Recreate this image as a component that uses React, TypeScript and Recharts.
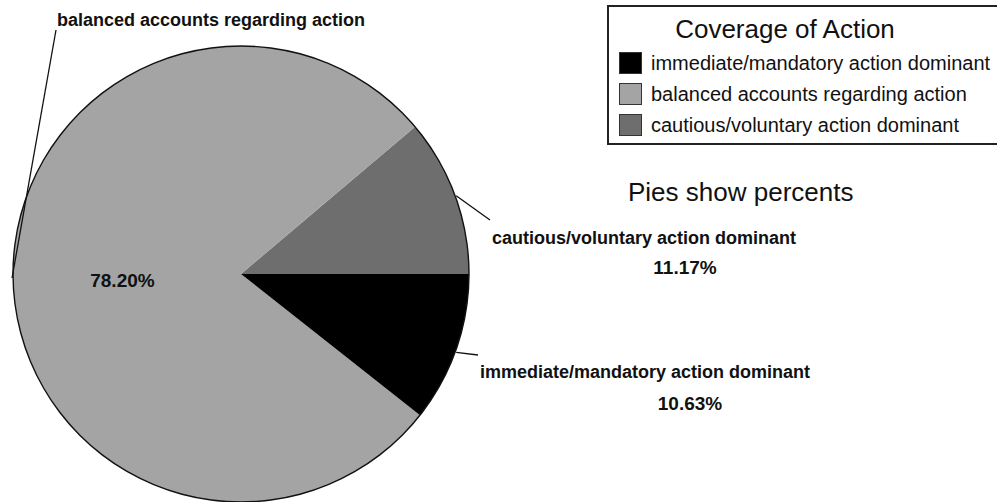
import { PieChart, Pie, Cell, Legend } from 'recharts';

const categories = [
  'cautious/voluntary action dominant',
  'balanced accounts regarding action',
  'immediate/mandatory action dominant',
];
const percents = [11.17, 78.2, 10.63];
const legendTitle = 'Coverage of Action';
const note = 'Pies show percents';

const sliceColors = ['#6e6e6e', '#a4a4a4', '#000000'];
// legend lists the categories bottom-up compared with the data order
const legendOrder = [2, 1, 0];

const data = categories.map((name, i) => ({ name, value: percents[i] }));
const outline = [{ name: 'total', value: percents.reduce((a, b) => a + b, 0) }];

const FONT = '"Liberation Sans", Arial, Helvetica, sans-serif';
const RAD = Math.PI / 180;

// where each slice's outside label goes, relative to the pie centre
const labelLayout = [
  { angle: 20, end: [249, -54], name: [251, -36], pct: [444, -7] },
  { angle: 181, end: [-185, -244], name: [-184, -254], pct: null },
  { angle: -20, end: [237, 81], name: [239, 98], pct: [449, 129] },
];

const renderLabel = (props: any) => {
  const { cx, cy, outerRadius, midAngle, index, value } = props;
  const lay = labelLayout[index];
  const sx = cx + (outerRadius + 1) * Math.cos(lay.angle * RAD);
  const sy = cy - (outerRadius + 1) * Math.sin(lay.angle * RAD);
  const text = `${Number(value).toFixed(2)}%`;
  const ir = outerRadius * 0.52;
  return (
    <g key={`lbl-${index}`} style={{ fontFamily: FONT, fontWeight: 'bold' }}>
      <line x1={sx} y1={sy} x2={cx + lay.end[0]} y2={cy + lay.end[1]} stroke="#111" strokeWidth={1.3} />
      <text x={cx + lay.name[0]} y={cy + lay.name[1]} fontSize={18} fill="#111" textAnchor="start" dominantBaseline="central">
        {categories[index]}
      </text>
      {lay.pct ? (
        <text x={cx + lay.pct[0]} y={cy + lay.pct[1]} fontSize={19} fill="#111" textAnchor="middle" dominantBaseline="central">
          {text}
        </text>
      ) : (
        <text
          x={cx + ir * Math.cos(midAngle * RAD)}
          y={cy - ir * Math.sin(midAngle * RAD) + 4}
          fontSize={19}
          fill="#111"
          textAnchor="middle"
          dominantBaseline="central"
        >
          {text}
        </text>
      )}
    </g>
  );
};

const LegendBox = () => (
  <div
    style={{
      position: 'absolute',
      left: 607,
      top: 5,
      width: 400,
      height: 136,
      border: '2px solid #222',
      fontFamily: FONT,
      color: '#111',
      background: '#fff',
    }}
  >
    <div style={{ position: 'absolute', left: 0, top: 7, width: 352, textAlign: 'center', fontSize: 26, lineHeight: '30px' }}>
      {legendTitle}
    </div>
    {legendOrder.map((idx, row) => (
      <div key={idx} style={{ position: 'absolute', left: 10, top: 44 + row * 31, height: 24, display: 'flex', alignItems: 'center' }}>
        <div
          style={{
            width: 21,
            height: 20,
            background: sliceColors[idx],
            border: '1.5px solid #333',
            marginRight: 9,
          }}
        />
        <span style={{ fontSize: 20, lineHeight: '24px', whiteSpace: 'nowrap' }}>{categories[idx]}</span>
      </div>
    ))}
  </div>
);

export default function App() {
  return (
    <div style={{ position: 'absolute', left: 0, top: 0, width: 997, height: 502, overflow: 'hidden', background: '#fff' }}>
      <PieChart width={997} height={502} margin={{ top: 0, right: 0, bottom: 0, left: 0 }}>
        <Pie
          data={data}
          dataKey="value"
          nameKey="name"
          cx={241}
          cy={274}
          outerRadius={228}
          startAngle={0}
          endAngle={360}
          stroke="none"
          label={renderLabel}
          labelLine={false}
          isAnimationActive={false}
        >
          {data.map((d, i) => (
            <Cell key={d.name} fill={sliceColors[i]} />
          ))}
        </Pie>
        <Pie
          data={outline}
          dataKey="value"
          cx={241}
          cy={274}
          innerRadius={227.3}
          outerRadius={228.7}
          startAngle={0}
          endAngle={360}
          fill="#111"
          stroke="none"
          legendType="none"
          label={false}
          labelLine={false}
          isAnimationActive={false}
        />
        <Legend content={() => <LegendBox />} wrapperStyle={{ position: 'absolute', left: 0, top: 0, width: 0, height: 0 }} />
      </PieChart>
      <div
        style={{
          position: 'absolute',
          left: 628,
          top: 176,
          fontFamily: FONT,
          fontSize: 26,
          lineHeight: '32px',
          color: '#111',
          whiteSpace: 'nowrap',
        }}
      >
        {note}
      </div>
    </div>
  );
}
